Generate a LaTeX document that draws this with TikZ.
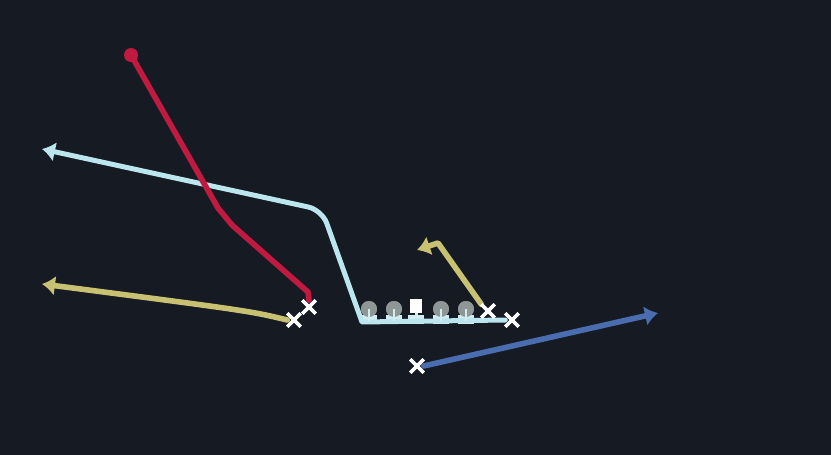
\documentclass[tikz,border=0pt]{standalone}
\usetikzlibrary{arrows.meta,shapes.misc}
\definecolor{bg}{HTML}{151A23}
\definecolor{lblue}{HTML}{BCE6EE}
\definecolor{rroute}{HTML}{C01A40}
\definecolor{yroute}{HTML}{C9C172}
\definecolor{broute}{HTML}{4A6DB0}
\definecolor{lgray}{HTML}{8E9696}
\definecolor{lstem}{HTML}{D4ECEF}
\tikzset{
  xmark/.style={cross out,draw=white,line width=3.4pt,minimum size=10pt,inner sep=0pt},
  lineman/.style={circle,fill=lgray,minimum size=16pt,inner sep=0pt},
  centerman/.style={rectangle,fill=white,minimum width=12pt,minimum height=14pt,inner sep=0pt},
  route/.style={line width=5.6pt,line cap=round,line join=round},
  tip/.style={-{Latex[length=13pt,width=20pt]}},
}
\begin{document}
\begin{tikzpicture}[x=1pt,y=-1pt]
\fill[bg] (0,0) rectangle (831,455);
\useasboundingbox (0,0) rectangle (831,455);

% offensive line
\node[lineman] (L1) at (369,309) {};
\node[lineman] (L2) at (394,309) {};
\node[centerman] (C) at (416,306) {};
\node[lineman] (L3) at (441,309) {};
\node[lineman] (L4) at (466,309) {};

% players (X)
\node[xmark] (Xr) at (309,307) {};
\node[xmark] (Xy) at (294,320) {};
\node[xmark] (Xyr) at (488,311) {};
\node[xmark] (Xlb) at (512,320) {};
\node[xmark] (Xb) at (417,366) {};

% route points
\coordinate (lbA) at (362,322);
\coordinate (lbB) at (322,210);
\coordinate (lbEnd) at (42,149);
\coordinate (rA) at (308,292);
\coordinate (rB) at (232,225);
\coordinate (rC) at (218,208);
\coordinate (rEnd) at (131,55);
\coordinate (yA) at (250,311);
\coordinate (yEnd) at (42,284);
\coordinate (yrA) at (438,243);
\coordinate (yrEnd) at (417,250);
\coordinate (bEnd) at (658,313);

% stems and blocks under linemen
\foreach \n in {L1,L2,C,L3,L4}{
  \draw[lstem,line width=3pt] (\n.center) -- (\n.center |- lbA);
  \fill[lstem] ([xshift=-8pt,yshift=-2pt]\n.center |- lbA) rectangle ([xshift=8pt,yshift=7pt]\n.center |- lbA);
}

% light blue route (along the line, up and out)
\draw[lblue,route,line width=5pt,tip] (Xlb.west) -- (lbA) [rounded corners=14pt] -- (lbB) -- (lbEnd);

% red route
\draw[rroute,route] (Xr.north) -- (rA) -- (rB) -- (rC) -- (rEnd);
\fill[rroute] (rEnd) circle (7pt);

% yellow routes
\draw[yroute,route,tip] (Xy.west) .. controls (yA) .. (yEnd);
\draw[yroute,route,tip] (Xyr.north west) -- (yrA) -- (yrEnd);

% blue route
\draw[broute,route,tip] (Xb.east) -- (bEnd);

% redraw players and linemen on top
\foreach \n in {L1,L2,L3,L4}{\node[lineman] at (\n) {};
  \draw[lstem,line width=2.5pt] (\n.center) -- ++(0,12);}
\node[centerman] at (C) {};
\foreach \n in {Xr,Xy,Xyr,Xlb,Xb}{\node[xmark] at (\n) {};}
\end{tikzpicture}
\end{document}
